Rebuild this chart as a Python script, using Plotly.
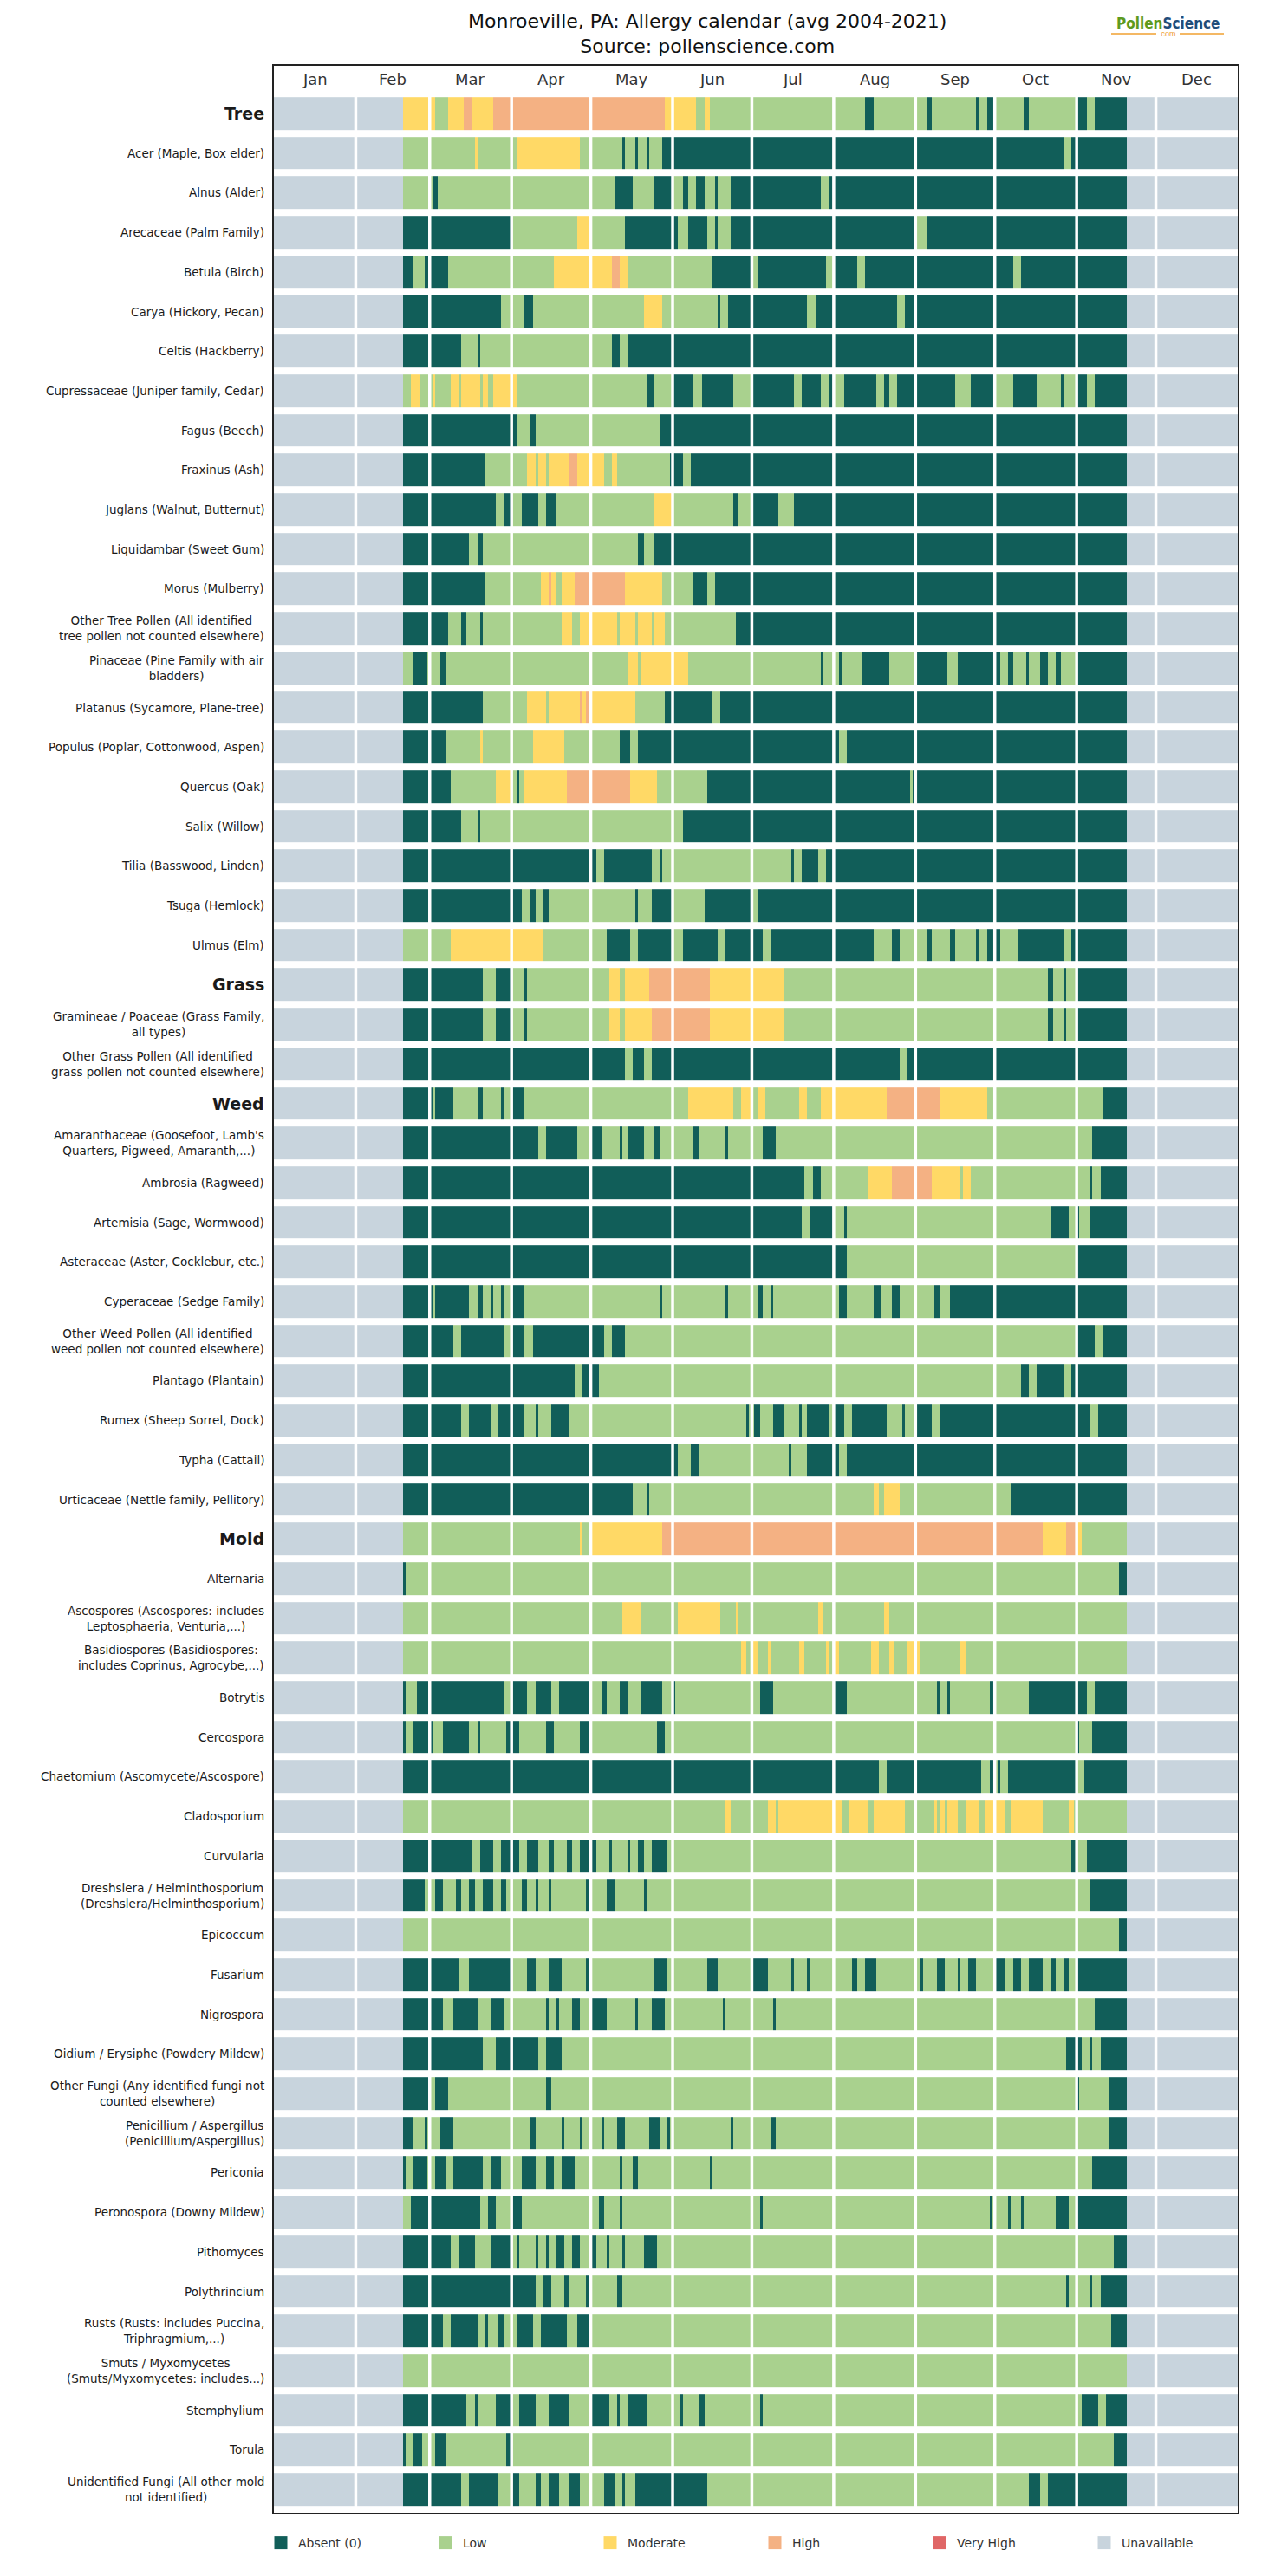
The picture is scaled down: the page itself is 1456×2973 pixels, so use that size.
import numpy as np
import plotly.graph_objects as go

# ---------------- data ----------------
months = ["Jan", "Feb", "Mar", "Apr", "May", "Jun", "Jul", "Aug", "Sep", "Oct", "Nov", "Dec"]
month_days = [31, 28, 31, 30, 31, 30, 31, 31, 30, 31, 30, 31]

level_names = ["Absent (0)", "Low", "Moderate", "High", "Very High", "Unavailable"]
level_codes = ["A", "L", "M", "H", "V", "U"]
level_colors = ["#115e59", "#a9d18e", "#ffd966", "#f4b183", "#e06666", "#c8d4dd"]

season_end = 323  # first day-of-year index after the last observed day

group_rows = ["Tree", "Grass", "Weed", "Mold"]

taxa = [
    "Tree",
    "Acer (Maple, Box elder)",
    "Alnus (Alder)",
    "Arecaceae (Palm Family)",
    "Betula (Birch)",
    "Carya (Hickory, Pecan)",
    "Celtis (Hackberry)",
    "Cupressaceae (Juniper family, Cedar)",
    "Fagus (Beech)",
    "Fraxinus (Ash)",
    "Juglans (Walnut, Butternut)",
    "Liquidambar (Sweet Gum)",
    "Morus (Mulberry)",
    "Other Tree Pollen (All identified<br>tree pollen not counted elsewhere)",
    "Pinaceae (Pine Family with air<br>bladders)",
    "Platanus (Sycamore, Plane-tree)",
    "Populus (Poplar, Cottonwood, Aspen)",
    "Quercus (Oak)",
    "Salix (Willow)",
    "Tilia (Basswood, Linden)",
    "Tsuga (Hemlock)",
    "Ulmus (Elm)",
    "Grass",
    "Gramineae / Poaceae (Grass Family,<br>all types)",
    "Other Grass Pollen (All identified<br>grass pollen not counted elsewhere)",
    "Weed",
    "Amaranthaceae (Goosefoot, Lamb's<br>Quarters, Pigweed, Amaranth,...)",
    "Ambrosia (Ragweed)",
    "Artemisia (Sage, Wormwood)",
    "Asteraceae (Aster, Cocklebur, etc.)",
    "Cyperaceae (Sedge Family)",
    "Other Weed Pollen (All identified<br>weed pollen not counted elsewhere)",
    "Plantago (Plantain)",
    "Rumex (Sheep Sorrel, Dock)",
    "Typha (Cattail)",
    "Urticaceae (Nettle family, Pellitory)",
    "Mold",
    "Alternaria",
    "Ascospores (Ascospores: includes<br>Leptosphaeria, Venturia,...)",
    "Basidiospores (Basidiospores:<br>includes Coprinus, Agrocybe,...)",
    "Botrytis",
    "Cercospora",
    "Chaetomium (Ascomycete/Ascospore)",
    "Cladosporium",
    "Curvularia",
    "Dreshslera / Helminthosporium<br>(Dreshslera/Helminthosporium)",
    "Epicoccum",
    "Fusarium",
    "Nigrospora",
    "Oidium / Erysiphe (Powdery Mildew)",
    "Other Fungi (Any identified fungi not<br>counted elsewhere)",
    "Penicillium / Aspergillus<br>(Penicillium/Aspergillus)",
    "Periconia",
    "Peronospora (Downy Mildew)",
    "Pithomyces",
    "Polythrincium",
    "Rusts (Rusts: includes Puccina,<br>Triphragmium,...)",
    "Smuts / Myxomycetes<br>(Smuts/Myxomycetes: includes...)",
    "Stemphylium",
    "Torula",
    "Unidentified Fungi (All other mold<br>not identified)",
]

# level code + first day-of-year (0-based) of each run
segments = [
    "M49 L61 M66 H72 M75 H83 M148 L160 M163 L165 A224 L227 A247 L249 A266 L267 A270 L273 A284 L286 A304 L308 A311",
    "L49 M76 L77 M92 L116 A132 L133 A137 L138 A141 L142 A147 L299 A302",
    "L49 A60 L62 A129 L136 A144 L151 A155 L157 A160 L163 A167 L168 A173 L207 A210",
    "A49 L90 M115 L120 A133 L153 A157 L164 A167 L168 A173 L243 A247",
    "A49 L53 A57 L66 M106 H128 M131 L134 A166 L181 A183 L209 A212 L221 A224 L280 A283",
    "A49 L86 A95 L98 M140 L147 A168 L169 A172 L202 A205 L236 A239",
    "A49 L71 A77 L78 A128 L131 A134",
    "L49 M52 L55 M60 L61 M67 L70 M71 L78 M79 L81 M83 L92 A141 L144 A151 L159 A162 L174 A181 L197 A200 L207 A210 L212 A216 L228 A231 L233 A236 L258 A264 L273 A280 L289 A298 L299 A304 L308 A311",
    "A49 L92 A97 L99 A146",
    "A49 L80 M96 L99 M100 L103 M104 H112 M115 L125 M128 L130 A150 L155 A158",
    "A49 L84 A87 L90 A94 L100 A103 L107 M144 L151 A174 L176 A181 L191 A197",
    "A49 L74 A77 L79 A138 L140 A144",
    "A49 L80 M101 H104 M105 L107 M109 H114 M133 L147 A159 L164 A167",
    "A49 L66 A71 L73 A78 L79 M109 L113 M116 L130 M131 L137 M138 L143 M144 L148 A175",
    "L49 A53 L58 A63 L65 M134 L138 M139 L157 A207 L208 A214 L215 A223 L233 A243 L255 A259 L275 A278 L280 A285 L286 A290 L293 A296 L298 A304",
    "A49 L79 M96 L103 M104 H116 M117 H118 M120 L137 A148 L166 A169",
    "A49 L65 M78 L79 M98 L110 A131 L135 A138 L214 A217",
    "A49 L67 M84 L90 A92 L93 M95 H111 M135 L145 A164 L241 A242",
    "A49 L71 A77 L78 A155",
    "A49 L122 A125 L143 A146 L147 A196 L197 A200 L206 A209",
    "A49 L94 A97 L99 A102 L104 A137 L138 A143 L151 A163 L181 A183",
    "L49 M67 L102 A126 L135 A138 L151 A155 L168 A171 L185 A188 L227 A234 L237 A247 L249 A256 L258 A266 L267 A270 L275 A282 L299 A302",
    "A49 L79 A84 L90 A95 L96 M127 L131 M133 H142 M165 L193 A293 L295 A299 L300 A304",
    "A49 L79 A84 L90 A95 L96 M127 L131 M133 H143 M165 L193 A293 L295 A299 L300 A304",
    "A49 L133 A136 L140 A143 L237 A240",
    "A49 L60 A61 L68 A77 L79 A86 L87 A90 L95 M157 L174 M177 L181 M183 L186 M199 L202 M207 H232 M252 L270 A314",
    "A49 L100 A103 L115 A119 L124 A131 L132 A134 L140 A144 L146 A159 L161 A171 L172 A185 L190 A310",
    "A49 L201 A204 L207 M225 H234 M249 L260 M261 L264 A309 L310 A313",
    "A49 L200 A203 L212 A216 L217 A294 L301 A304 L305 A309",
    "A49 L217 A304",
    "A49 L60 A61 L74 A77 L79 A82 L83 A86 L87 A90 L95 A146 L147 A171 L172 A183 L185 A188 L189 A214 L217 A227 L230 A234 L237 A250 L252 A256",
    "A49 L68 A71 L87 A90 L95 A98 L125 A128 L133 A304 L311 A314",
    "A49 L114 A117 L123 A283 L286 A289 L299 A302",
    "A49 L71 A74 L82 A85 L95 A99 L100 A105 L112 A179 L180 A182 L184 A189 L193 A199 L200 A202 L210 A212 L216 A219 L232 A238 L239 A243 L249 A252 L309 A312",
    "A49 L153 A158 L161 A195 L196 A202 L214 A217",
    "A49 L136 A141 L142 M227 L229 M231 L237 A279",
    "L49 M116 L117 M120 H147 M291 H300 M304 L306",
    "A49 L50 A320",
    "L49 M132 L139 M153 L169 M175 L176 M206 L208 M231 L233",
    "L49 M177 L179 M181 L183 M187 L188 M199 L201 M209 L210 M212 L214 M226 L229 M233 L235 M240 L245 M260 L262",
    "A49 L50 A54 L87 A90 L96 A99 L105 A108 L120 A124 L126 A131 L134 A139 L147 A151 L152 A184 L189 A212 L217 A251 L252 A255 L256 A271 L273 A286 L308 A311",
    "A49 L50 A53 L60 A64 L74 A77 L78 A88 L93 A103 L106 A116 L120 A145 L148 A304 L305 A310",
    "A49 L229 A232 L268 A271 L273 A274 L275 A278 L304 A307",
    "L49 M171 L173 M187 L190 M191 L215 M218 L225 M227 L239 M250 L251 M252 L254 M255 L259 M262 L267 M269 L277 M279 L291 M301 L303",
    "A49 L75 A78 L83 A86 L93 A96 L100 A104 L106 A111 L113 A116 L122 A127 L128 A134 L135 A138 L140 A143 L149 A302 L304 A308",
    "A49 L57 A61 L64 A69 L71 A74 L76 A79 L83 A86 L88 A94 L96 A99 L100 A104 L105 A118 L120 A126 L129 A140 L141 A309",
    "L49 A320",
    "A49 L70 A74 L90 A96 L99 A104 L109 A118 L119 A144 L149 A164 L168 A181 L187 A196 L197 A202 L203 A219 L221 A224 L228 A245 L246 A251 L254 A259 L260 A263 L266 A273 L277 A280 L283 A286 L291 A294 L296 A299 L301 A304",
    "A49 L64 A68 L77 A82 L87 A103 L104 A107 L108 A113 L116 A120 L126 A137 L138 A143 L148 A170 L171 A189 L190 A311",
    "A49 L79 A84 L100 A103 L109 A300 L306 A309 L310 A313",
    "A49 L59 A61 L66 A103 L105 A304 L305 A316",
    "A49 L53 A57 L58 A63 L68 A97 L99 A109 L110 A116 L117 A124 L125 A130 L133 A142 L146 A149 L150 A173 L174 A188 L190 A316",
    "A49 L50 A53 L58 A61 L65 A68 L79 A82 L86 A94 L99 A103 L106 A109 L114 A131 L132 A136 L138 A165 L166 A310",
    "L49 A52 L78 A81 L84 A90 L94 A123 L125 A131 L132 A184 L185 A271 L272 A278 L279 A283 L284 A296 L301 A304",
    "A49 L67 A70 L76 A82 L90 A92 L93 A99 L100 A103 L104 A107 L110 A113 L116 A119 L122 A126 L127 A132 L133 A140 L145 A318",
    "A49 L99 A102 L105 A110 L112 A118 L120 A130 L132 A300 L301 A309 L310 A313",
    "A49 L64 A67 L77 A80 L81 A85 L87 A92 L98 A101 L111 A115 L120 A317",
    "L49",
    "A49 L73 A76 L77 A84 L90 A93 L99 A104 L112 A120 L127 A130 L131 A134 L141 A154 L155 A161 L163 A184 L185 A306 L312 A315",
    "A49 L50 A53 L56 A61 L65 A88 L90 A318",
    "A49 L71 A74 L85 A90 L93 A99 L101 A104 L108 A112 L116 A125 L129 A132 L133 A137 L164 A286 L290 A293",
]

# ---------------- build matrix ----------------
n_days = sum(month_days)
n_rows = len(taxa)
unavailable = level_codes.index("U")
z = np.full((n_rows, n_days), unavailable, dtype=int)
for r, s in enumerate(segments):
    runs = [(p[0], int(p[1:])) for p in s.split()]
    for i, (code, start) in enumerate(runs):
        end = runs[i + 1][1] if i + 1 < len(runs) else season_end
        z[r, start:end] = level_codes.index(code)

days = np.arange(n_days) + 0.5
nl = len(level_colors)
colorscale = []
for i, c in enumerate(level_colors):
    colorscale.append([i / nl, c])
    colorscale.append([(i + 1) / nl, c])

# ---------------- figure ----------------
W, H = 1456, 2973
ML, MR, MT, MB = 316, 28, 76, 73
plot_w = W - ML - MR
plot_h = H - MT - MB
pitch = 45.7

fig = go.Figure()
fig.add_trace(go.Heatmap(
    z=z, x=days, y=list(range(n_rows)),
    colorscale=colorscale, zmin=-0.5, zmax=nl - 0.5,
    showscale=False, ygap=8, hoverinfo="skip",
))

for name, col in zip(level_names, level_colors):
    fig.add_trace(go.Scatter(
        x=[None], y=[None], mode="markers", name=name,
        marker=dict(symbol="square", size=15, color=col),
    ))

def px_x(px):
    return (px - ML) / plot_w

def px_y(py):
    return (H - MB - py) / plot_h

shapes = []
bounds = np.cumsum(month_days)[:-1]
for b in bounds:
    shapes.append(dict(type="line", xref="x", yref="y", x0=b, x1=b,
                       y0=-0.5, y1=n_rows - 0.5,
                       line=dict(color="white", width=3.5), layer="above"))

# logo decoration lines
for xa, xb in [(1282, 1334), (1361, 1412)]:
    shapes.append(dict(type="line", xref="paper", yref="paper",
                       x0=px_x(xa), x1=px_x(xb), y0=px_y(39), y1=px_y(39),
                       line=dict(color="#f0a030", width=1.5)))

annotations = []
for r, label in enumerate(taxa):
    is_group = label in group_rows
    annotations.append(dict(
        text=f"<b>{label}</b>" if is_group else label,
        x=0, xref="paper", xanchor="right", xshift=-9,
        y=r, yref="y", yanchor="middle",
        showarrow=False, align="center",
        font=dict(size=19 if is_group else 13.5, color="#1a1a1a",
                  family="DejaVu Sans"),
    ))

starts = np.concatenate([[0], np.cumsum(month_days)[:-1]])
for m, s0, nd in zip(months, starts, month_days):
    annotations.append(dict(
        text=m, x=s0 + nd / 2, xref="x", y=1, yref="paper",
        yanchor="top", yshift=-3, showarrow=False,
        font=dict(size=18, color="#333333", family="DejaVu Sans"),
    ))

annotations.append(dict(
    text="Monroeville, PA: Allergy calendar (avg 2004-2021)<br>Source: pollenscience.com",
    x=px_x(816), xref="paper", y=px_y(10), yref="paper",
    xanchor="center", yanchor="top", showarrow=False, align="center",
    font=dict(size=22, color="#111111", family="DejaVu Sans"),
))

annotations.append(dict(
    text="<b><span style='color:#5e9a1e'>Pollen</span><span style='color:#1f4d7a'>Science</span></b>",
    x=px_x(1348), xref="paper", y=px_y(27), yref="paper",
    xanchor="center", yanchor="middle", showarrow=False,
    font=dict(size=17, family="Liberation Sans Narrow, DejaVu Sans Condensed, Liberation Sans"),
))
annotations.append(dict(
    text=".com", x=px_x(1347), xref="paper", y=px_y(39), yref="paper",
    xanchor="center", yanchor="middle", showarrow=False,
    font=dict(size=9, color="#f0a030", family="Liberation Sans"),
))

fig.update_layout(
    width=W, height=H,
    margin=dict(l=ML, r=MR, t=MT, b=MB, pad=0),
    paper_bgcolor="white", plot_bgcolor="white",
    font=dict(family="DejaVu Sans", color="#222222"),
    xaxis=dict(range=[0, n_days], showgrid=False, zeroline=False,
               showticklabels=False, ticks="", showline=True, mirror=True,
               linecolor="#222222", linewidth=1.5, fixedrange=True),
    yaxis=dict(range=[(n_rows - 1) + 27 / pitch, -55 / pitch], showgrid=False,
               zeroline=False, showticklabels=False, ticks="", showline=True,
               mirror=True, linecolor="#222222", linewidth=1.5, fixedrange=True),
    showlegend=True,
    legend=dict(orientation="h", x=px_x(304), xanchor="left",
                y=px_y(2935), yanchor="middle",
                entrywidth=145, entrywidthmode="pixels",
                font=dict(size=14, color="#333333"),
                bgcolor="rgba(0,0,0,0)", itemclick=False, itemdoubleclick=False),
    shapes=shapes, annotations=annotations,
)

fig.write_html("out.html")
